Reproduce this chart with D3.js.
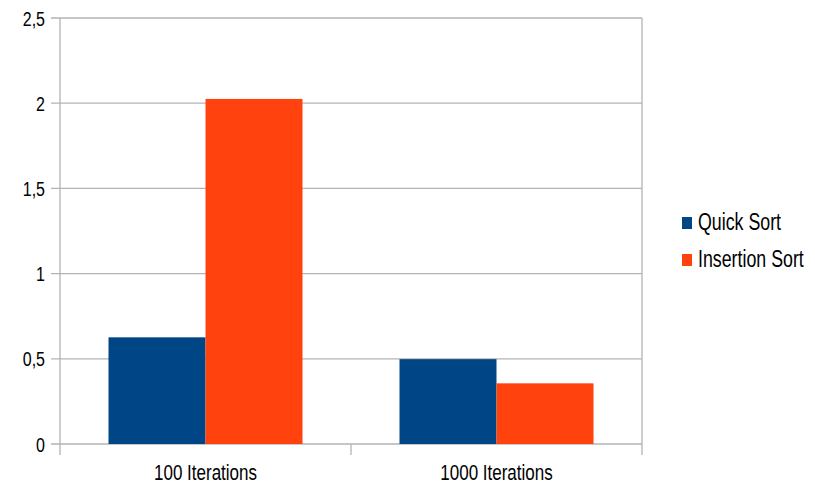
<!DOCTYPE html>
<html>
<head>
<meta charset="utf-8">
<script src="https://cdn.jsdelivr.net/npm/d3@7"></script>
<style>
  html, body { margin: 0; padding: 0; background: #fff; }
  svg { display: block; }
  text { font-family: "Liberation Sans", Arial, sans-serif; fill: #000; }
</style>
</head>
<body>
<svg id="chart" width="815" height="485"></svg>
<script>
// Benchmark results (seconds)
const categories = ["100 Iterations", "1000 Iterations"];
const seriesNames = ["Quick Sort", "Insertion Sort"];
const quickSort = [0.626, 0.498];
const insertionSort = [2.025, 0.356];
const yTicks = [0, 0.5, 1, 1.5, 2, 2.5];
const colors = ["#004586", "#ff420e"];

const series = [quickSort, insertionSort];
const svg = d3.select("#chart");

const plot = { left: 60, right: 642, top: 18, bottom: 444 };
const stretch = 1.3; // tall, narrow lettering

const y = d3.scaleLinear().domain([0, 2.5]).range([plot.bottom, plot.top]);
const x0 = d3.scaleBand().domain(categories).range([plot.left, plot.right]).paddingInner(0).paddingOuter(0);
const inner = 2 / 3;
const x1 = d3.scaleBand().domain(seriesNames)
  .range([0, x0.bandwidth() * inner]);
const offset = x0.bandwidth() * (1 - inner) / 2;

const fmt = v => String(v).replace(".", ",");

// horizontal grid lines with ticks
svg.append("g").selectAll("line").data(yTicks).join("line")
  .attr("x1", plot.left - 9).attr("x2", plot.right)
  .attr("y1", d => y(d)).attr("y2", d => y(d))
  .attr("stroke", "#b3b3b3").attr("stroke-width", 1.3);

// y tick labels
svg.append("g").selectAll("text").data(yTicks).join("text")
  .attr("transform", d => `translate(45,${y(d) + 7.5}) scale(1,${stretch})`)
  .attr("text-anchor", "end")
  .style("font-size", "16px")
  .text(fmt);

// vertical frame lines and category separators
const bounds = [plot.left, ...categories.map(c => x0(c) + x0.bandwidth())];
svg.append("g").selectAll("line").data(bounds).join("line")
  .attr("x1", d => d).attr("x2", d => d)
  .attr("y1", (d, i) => (i === 1 ? plot.bottom : plot.top))
  .attr("y2", plot.bottom + 11)
  .attr("stroke", "#b3b3b3").attr("stroke-width", 1.3);

// bars
const groups = svg.append("g").selectAll("g").data(categories).join("g")
  .attr("transform", c => `translate(${x0(c) + offset},0)`);
groups.selectAll("rect")
  .data((c, ci) => seriesNames.map((s, si) => ({ s, si, v: series[si][ci] })))
  .join("rect")
  .attr("x", d => x1(d.s))
  .attr("width", x1.bandwidth())
  .attr("y", d => y(d.v))
  .attr("height", d => y(0) - y(d.v))
  .attr("fill", d => colors[d.si]);

// category labels
svg.append("g").selectAll("text").data(categories).join("text")
  .attr("transform", c => `translate(${x0(c) + x0.bandwidth() / 2},480) scale(1,${stretch})`)
  .attr("text-anchor", "middle")
  .style("font-size", "17px")
  .text(d => d);

// legend
const legend = svg.append("g").selectAll("g").data(seriesNames).join("g")
  .attr("transform", (d, i) => `translate(682,${217 + i * 37})`);
legend.append("rect")
  .attr("width", 10).attr("height", 12)
  .attr("fill", (d, i) => colors[i]);
legend.append("text")
  .attr("transform", `translate(16,12.5) scale(1,${stretch})`)
  .style("font-size", "17.8px")
  .text(d => d);
</script>
</body>
</html>
